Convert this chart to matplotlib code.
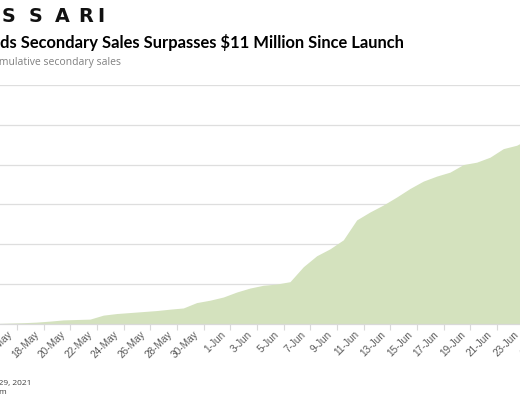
import matplotlib
matplotlib.use('Agg')
import matplotlib.pyplot as plt
import datetime as dt

# ---------------- data ----------------
start = dt.date(2021, 5, 14)
sales_musd = [0.0, 0.0, 0.02, 0.04, 0.07, 0.12, 0.18, 0.20, 0.22, 0.42,
              0.50, 0.55, 0.60, 0.65, 0.72, 0.78, 1.05, 1.17, 1.33, 1.58,
              1.78, 1.92, 1.98, 2.10, 2.85, 3.40, 3.75, 4.20, 5.20, 5.60,
              5.95, 6.35, 6.78, 7.15, 7.40, 7.60, 7.98, 8.10, 8.35, 8.78,
              8.95, 9.30, 9.65, 10.00, 10.40, 10.75, 11.10]
dates = [start + dt.timedelta(days=i) for i in range(len(sales_musd))]
date_labels = [f"{d.day}-{d.strftime('%b')}" for d in dates]
y_ticks = [0, 2, 4, 6, 8, 10, 12]

title = "ds Secondary Sales Surpasses $11 Million Since Launch"
subtitle = "Cumulative secondary sales"
logo = "MESSARI"
foot1 = "Data as of June 29, 2021"
foot2 = "Source: nonfungible.com"

# ---------------- layout ----------------
W, H = 520, 400
fig = plt.figure(figsize=(W / 100, H / 100), dpi=100)
fig.patch.set_facecolor('white')

px_per_day = 13.333
c0 = 10.5           # pixel x of 16-May (index 2)
n = len(sales_musd)
left_px = c0 - (2 + 0.5) * px_per_day
right_px = c0 + (n - 1 - 2 + 0.5) * px_per_day
base_px, top_px = 324, 85
ax = fig.add_axes([left_px / W, (H - base_px) / H,
                   (right_px - left_px) / W, (base_px - top_px) / H])

x = list(range(n))
ax.fill_between(x, sales_musd, 0, color='#d4e2be', linewidth=0, zorder=2)
ax.set_xlim(-0.5, n - 0.5)
ax.set_ylim(0, 12)
ax.set_yticks(y_ticks)
ax.yaxis.grid(True, color='#dedede', linewidth=0.9, zorder=0)
ax.tick_params(axis='y', length=0, labelleft=False)
for s in ['left', 'right', 'top']:
    ax.spines[s].set_visible(False)
ax.spines['bottom'].set_color('#d9d9d9')
ax.spines['bottom'].set_linewidth(0.9)
ax.set_axisbelow(True)

lab_idx = list(range(0, n, 2))
ax.set_xticks(lab_idx)
ax.set_xticklabels([date_labels[i] for i in lab_idx], rotation=45,
                   ha='right', va='center', rotation_mode='anchor',
                   fontsize=7.2, color='#595959', family='Liberation Sans')
ax.tick_params(axis='x', which='major', length=0, pad=6.5)
ax.set_xticks([i + 0.5 for i in lab_idx if i + 0.5 < n], minor=True)
ax.tick_params(axis='x', which='minor', length=4, color='#d9d9d9', width=0.8)

# ---------------- texts ----------------
def fx(px):
    return px / W

def fy(py):
    return 1 - py / H

fig.canvas.draw()
r = fig.canvas.get_renderer()

def fit(txt, target_w, **kw):
    t = fig.text(0, 0, txt, fontsize=10, **kw)
    w = t.get_window_extent(r).width
    t.remove()
    return 10 * target_w / w

# logo
logo_x = [-50, -22, 1.5, 28.5, 55, 78.5, 97]
for ch, lx in zip(logo, logo_x):
    fig.text(fx(lx), fy(22), ch, fontsize=13.8, fontweight='bold',
             family='DejaVu Sans', color='#111111', ha='left', va='baseline')

# title
fs_t = fit(title, 406, fontweight='bold', family='Lato')
fig.text(fx(0.5), fy(48), title, fontsize=fs_t, fontweight='bold',
         family='Lato', color='#000000', ha='left', va='baseline')

# subtitle
fs_s = fit(subtitle[2:], 121, family='Open Sans')
fig.text(fx(121), fy(64.5), subtitle, fontsize=fs_s, family='Open Sans',
         color='#808080', ha='right', va='baseline')

# footers
fig.text(fx(31.5), fy(384.5), foot1, fontsize=6.0, family='Open Sans',
         color='#404040', ha='right', va='baseline')
fig.text(fx(7.0), fy(393.5), foot2, fontsize=6.0, family='Open Sans',
         color='#404040', ha='right', va='baseline')

fig.savefig('out.png', dpi=100, facecolor='white')
